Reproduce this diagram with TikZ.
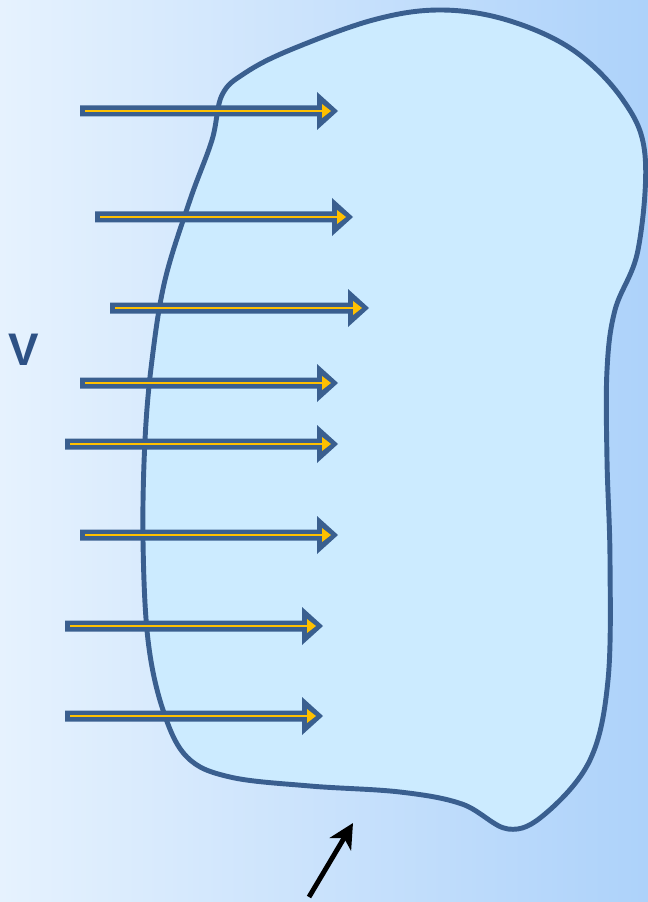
\documentclass[tikz,border=0pt]{standalone}
\usepackage{fontspec}
\usepackage{tikz}
\usetikzlibrary{arrows.meta}
\newfontfamily\labelfont{Liberation Sans}
\definecolor{skyleft}{HTML}{E6F2FE}
\definecolor{skyright}{HTML}{ADD2FA}
\definecolor{bodyfill}{HTML}{CCEBFF}
\definecolor{edgeblue}{HTML}{3A5F8F}
\definecolor{amber}{HTML}{FFC000}
\definecolor{labelblue}{HTML}{2D5185}

\begin{document}
\begin{tikzpicture}[
    x=0.02cm, y=-0.02cm,
    >=Stealth,
    body/.style={draw=edgeblue, fill=bodyfill, line width=2.8pt, line join=round},
    flowhead/.style={fill=edgeblue},
    flowcore/.style={draw=amber, line width=0.9pt},
    flowtip/.style={fill=amber},
    pointer/.style={draw=black, line width=2.8pt, -{Stealth[length=14pt, width=14pt, inset=4pt]}}
]
  % Background
  \shade[left color=skyleft, right color=skyright] (0,0) rectangle (648,902);
  \useasboundingbox (0,0) rectangle (648,902);

  % Control volume
  \draw[body] plot[smooth cycle, tension=0.6] coordinates {
    (222,95) (245,73) (290,50) (373,20) (440,10) (507,20) (573,50) (623,100)
    (645,155) (638,250) (615,310) (607,370) (607,460) (610,560) (608,680)
    (590,760) (545,814) (508,829) (462,804) (400,792) (310,786) (230,777)
    (187,757) (163,710) (148,640) (143,540) (145,440) (152,360) (165,280)
    (190,200) (212,140)};

  % Velocity arrows: y / start / tip
  \foreach \yy/\xs/\xt in {111/80/338, 217/95/353, 308/110/369, 383/80/338,
                          444/65/338, 535/80/338, 626/65/323, 716/65/323} {
    \fill[flowhead] (\xs,\yy-5.5) -- (\xt-21,\yy-5.5) -- (\xt-21,\yy-19)
      -- (\xt,\yy) -- (\xt-21,\yy+19) -- (\xt-21,\yy+5.5) -- (\xs,\yy+5.5) -- cycle;
    \draw[flowcore] (\xs+5,\yy) -- (\xt-16,\yy);
    \fill[flowtip] (\xt-16,\yy-7) -- (\xt-7,\yy) -- (\xt-16,\yy+7) -- cycle;
  }

  \node[text=labelblue, inner sep=0pt,
        font=\labelfont\bfseries\fontsize{26}{30}\selectfont] (vlabel) at (24,350) {V};

  % Surface pointer
  \coordinate (ptail) at (309,897);
  \coordinate (ptip) at (353,823);
  \draw[pointer] (ptail) -- (ptip);
\end{tikzpicture}
\end{document}
